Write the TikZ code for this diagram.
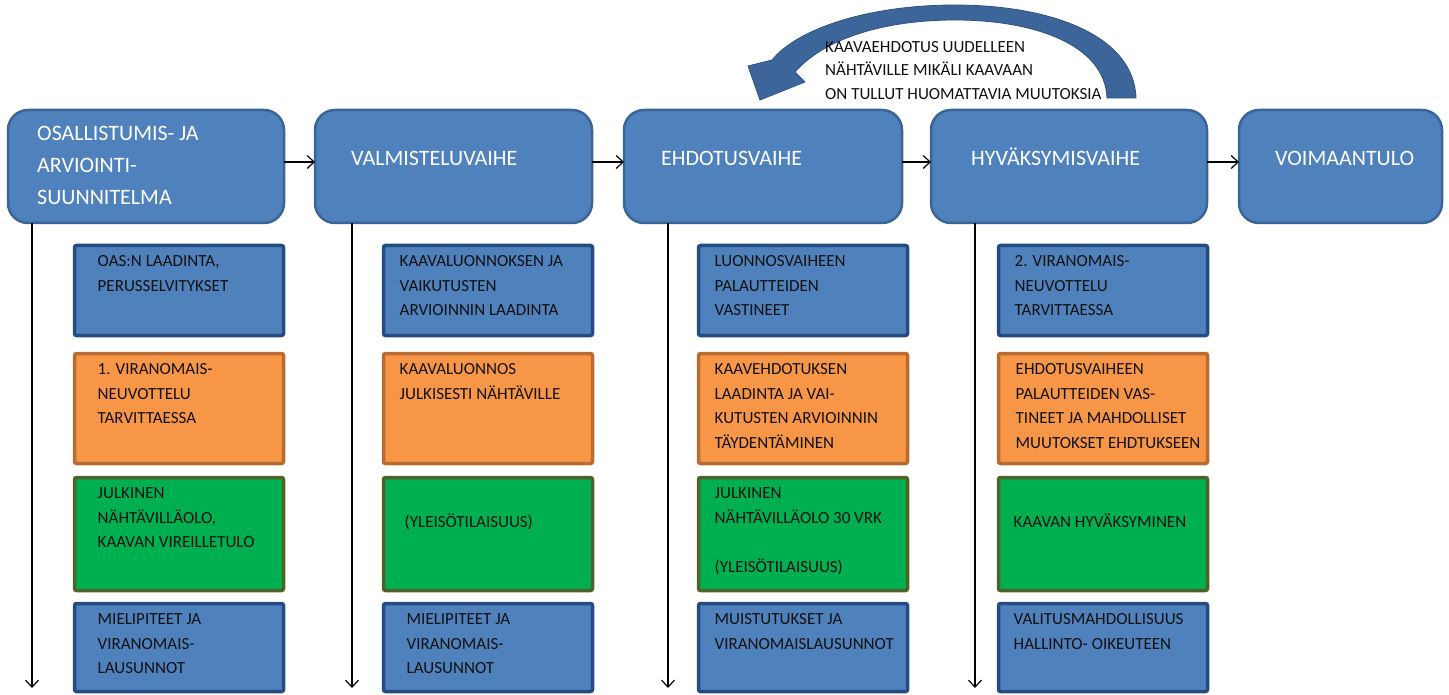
\documentclass[tikz,border=0pt]{standalone}
\usepackage{fontspec}
\setmainfont{Carlito}
\usetikzlibrary{arrows.meta}
\definecolor{phasefill}{HTML}{4F81BD}
\definecolor{phaseborder}{HTML}{3A6597}
\definecolor{blueborder}{HTML}{254C82}
\definecolor{orangefill}{HTML}{F79646}
\definecolor{orangeborder}{HTML}{B86C33}
\definecolor{greenfill}{HTML}{00B050}
\definecolor{greenborder}{HTML}{4F6228}
\definecolor{bandfill}{HTML}{3C669A}
\definecolor{bandborder}{HTML}{2D5282}
\definecolor{darktext}{HTML}{111111}
\tikzset{
  phase/.style={draw=phaseborder, fill=phasefill, line width=2.5pt, rounded corners=20pt,
    minimum height=113pt, inner sep=0pt, outer sep=0pt},
  ptext/.style={anchor=north west, inner sep=0pt, align=left, text=white,
    font=\fontsize{22}{32}\selectfont, execute at begin node=\rule{0pt}{20pt}},
  sbox/.style={line width=3.5pt, rounded corners=2pt, minimum width=209pt, inner sep=0pt, outer sep=0pt},
  bluebox/.style={sbox, fill=phasefill, draw=blueborder},
  orangebox/.style={sbox, fill=orangefill, draw=orangeborder},
  greenbox/.style={sbox, fill=greenfill, draw=greenborder},
  stext/.style={anchor=north west, inner sep=0pt, align=left, text=darktext,
    font=\fontsize{17}{24.5}\selectfont, execute at begin node=\rule{0pt}{15pt}},
  arr/.style={-{Straight Barb[length=7pt,width=13pt]}, line width=1.2pt},
}
\begin{document}
\begin{tikzpicture}[x=1pt,y=-1pt]
\useasboundingbox (0,0) rectangle (1449,695);

% curved return arrow
\path[fill=bandfill, draw=bandborder, line width=0.8pt, line join=round]
  (1136,98) .. controls (1134,35) and (1050,5) .. (955,5)
  .. controls (870,5) and (798,28) .. (772,60)
  -- (748,66) -- (760,100) -- (805,82) -- (795,72)
  .. controls (825,38) and (885,20) .. (955,20)
  .. controls (1035,20) and (1105,45) .. (1107,98) -- cycle;
\node[stext, font=\fontsize{17}{23.5}\selectfont] (note) at (825,41)
  {KAAVAEHDOTUS UUDELLEEN\\NÄHTÄVILLE MIKÄLI KAAVAAN\\ON TULLUT HUOMATTAVIA MUUTOKSIA};

% phase boxes
\node[phase, minimum width=276pt] (b1) at (146,166.5) {};
\node[phase, minimum width=277pt] (b2) at (453.5,166.5) {};
\node[phase, minimum width=278pt] (b3) at (763,166.5) {};
\node[phase, minimum width=276pt] (b4) at (1069,166.5) {};
\node[phase, minimum width=203pt] (b5) at (1340.5,166.5) {};

\node[ptext] (t1) at ([xshift=29pt,yshift=-16pt]b1.north west) {OSALLISTUMIS- JA\\ARVIOINTI-\\SUUNNITELMA};
\node[ptext] (t2) at ([xshift=36pt,yshift=-35pt]b2.north west) {VALMISTELUVAIHE};
\node[ptext] (t3) at ([xshift=37pt,yshift=-35pt]b3.north west) {EHDOTUSVAIHE};
\node[ptext] (t4) at ([xshift=40pt,yshift=-35pt]b4.north west) {HYVÄKSYMISVAIHE};
\node[ptext] (t5) at ([xshift=36pt,yshift=-35pt]b5.north west) {VOIMAANTULO};

% horizontal arrows
\draw[arr] ([yshift=4.5pt]b1.east) -- ([yshift=4.5pt]b2.west);
\draw[arr] ([yshift=4.5pt]b2.east) -- ([yshift=4.5pt]b3.west);
\draw[arr] ([yshift=4.5pt]b3.east) -- ([yshift=4.5pt]b4.west);
\draw[arr] ([yshift=4.5pt]b4.east) -- ([yshift=4.5pt]b5.west);

% vertical arrows
\coordinate (v1) at (32,688);
\coordinate (v2) at (352,688);
\coordinate (v3) at (668,688);
\coordinate (v4) at (975,688);
\draw[arr] (b1.south -| v1) -- (v1);
\draw[arr] (b2.south -| v2) -- (v2);
\draw[arr] (b3.south -| v3) -- (v3);
\draw[arr] (b4.south -| v4) -- (v4);

% column 1
\node[bluebox, minimum height=90pt] (a1) at (179,290.5) {};
\node[orangebox, minimum height=110pt] (a2) at (179,408.5) {};
\node[greenbox, minimum height=113pt] (a3) at (179,534) {};
\node[bluebox, minimum height=88pt] (a4) at (179,647.5) {};
\node[stext] (at1) at ([xshift=23pt,yshift=-10pt]a1.north west) {OAS:N LAADINTA,\\PERUSSELVITYKSET};
\node[stext] (at2) at ([xshift=23pt,yshift=-10pt]a2.north west) {1. VIRANOMAIS-\\NEUVOTTELU\\TARVITTAESSA};
\node[stext] (at3) at ([xshift=23pt,yshift=-10pt]a3.north west) {JULKINEN\\NÄHTÄVILLÄOLO,\\KAAVAN VIREILLETULO};
\node[stext] (at4) at ([xshift=23pt,yshift=-10pt]a4.north west) {MIELIPITEET JA\\VIRANOMAIS-\\LAUSUNNOT};

% column 2
\node[bluebox, minimum height=90pt] (m1) at (488,290.5) {};
\node[orangebox, minimum height=110pt] (m2) at (488,408.5) {};
\node[greenbox, minimum height=113pt] (m3) at (488,534) {};
\node[bluebox, minimum height=88pt] (m4) at (488,647.5) {};
\node[stext] (mt1) at ([xshift=16pt,yshift=-10pt]m1.north west) {KAAVALUONNOKSEN JA\\VAIKUTUSTEN\\ARVIOINNIN LAADINTA};
\node[stext] (mt2) at ([xshift=16pt,yshift=-10pt]m2.north west) {KAAVALUONNOS\\JULKISESTI NÄHTÄVILLE};
\node[stext] (mt3) at ([xshift=21pt,yshift=-34.5pt]m3.north west) {(YLEISÖTILAISUUS)};
\node[stext] (mt4) at ([xshift=23pt,yshift=-10pt]m4.north west) {MIELIPITEET JA\\VIRANOMAIS-\\LAUSUNNOT};

% column 3
\node[bluebox, minimum height=90pt] (e1) at (803,290.5) {};
\node[orangebox, minimum height=110pt] (e2) at (803,408.5) {};
\node[greenbox, minimum height=113pt] (e3) at (803,534) {};
\node[bluebox, minimum height=88pt] (e4) at (803,647.5) {};
\node[stext] (et1) at ([xshift=16pt,yshift=-10pt]e1.north west) {LUONNOSVAIHEEN\\PALAUTTEIDEN\\VASTINEET};
\node[stext] (et2) at ([xshift=16pt,yshift=-10pt]e2.north west) {KAAVEHDOTUKSEN\\LAADINTA JA VAI-\\KUTUSTEN ARVIOINNIN\\TÄYDENTÄMINEN};
\node[stext] (et3) at ([xshift=16pt,yshift=-10pt]e3.north west) {JULKINEN\\NÄHTÄVILLÄOLO 30 VRK\\\mbox{}\\(YLEISÖTILAISUUS)};
\node[stext] (et4) at ([xshift=16pt,yshift=-10pt]e4.north west) {MUISTUTUKSET JA\\VIRANOMAISLAUSUNNOT};

% column 4
\node[bluebox, minimum height=90pt] (h1) at (1103,290.5) {};
\node[orangebox, minimum height=110pt] (h2) at (1103,408.5) {};
\node[greenbox, minimum height=113pt] (h3) at (1103,534) {};
\node[bluebox, minimum height=88pt] (h4) at (1103,647.5) {};
\node[stext] (ht1) at ([xshift=16pt,yshift=-10pt]h1.north west) {2. VIRANOMAIS-\\NEUVOTTELU\\TARVITTAESSA};
\node[stext] (ht2) at ([xshift=17pt,yshift=-10pt]h2.north west) {EHDOTUSVAIHEEN\\PALAUTTEIDEN VAS-\\TINEET JA MAHDOLLISET\\MUUTOKSET EHDTUKSEEN};
\node[stext] (ht3) at ([xshift=15pt,yshift=-34.5pt]h3.north west) {KAAVAN HYVÄKSYMINEN};
\node[stext] (ht4) at ([xshift=15pt,yshift=-10pt]h4.north west) {VALITUSMAHDOLLISUUS\\HALLINTO- OIKEUTEEN};
\end{tikzpicture}
\end{document}
